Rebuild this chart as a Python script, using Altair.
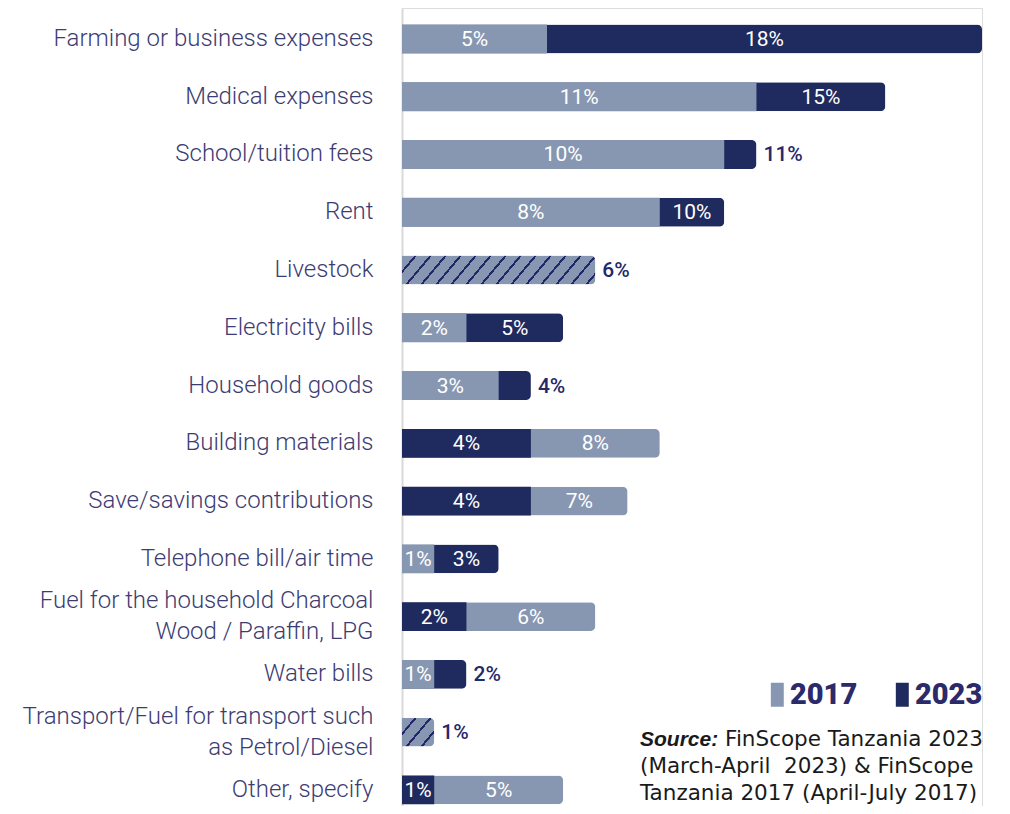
import math
import altair as alt
import pandas as pd

categories = [
    "Farming or business expenses",
    "Medical expenses",
    "School/tuition fees",
    "Rent",
    "Livestock",
    "Electricity bills",
    "Household goods",
    "Building materials",
    "Save/savings contributions",
    "Telephone bill/air time",
    "Fuel for the household Charcoal|Wood / Paraffin, LPG",
    "Water bills",
    "Transport/Fuel for transport such|as Petrol/Diesel",
    "Other, specify",
]
v2017 = [4.5, 11, 10, 8, 6, 2, 3, 8, 7, 1, 6, 1, 1, 5]
v2023 = [18, 15, 11, 10, 6, 5, 4, 4, 4, 3, 2, 2, 1, 1]
years = ["2017", "2023"]
source_lines = [
    "Source:",
    "FinScope Tanzania 2023",
    "(March-April\u00a0 2023) & FinScope",
    "Tanzania 2017 (April-July 2017)",
]

LIGHT = "#8797b2"
DARK = "#1f2a5e"
STRIPE = "#23276a"
LABEL = "#3d3c72"

W, H = 580, 798
XMAX = 18
PX = W / XMAX
P_IN, P_OUT, ALIGN = 0.5, 0.157, 0.91
STEP = H / (len(categories) - P_IN + 2 * P_OUT)
BW = STEP * (1 - P_IN)

rows = []
for c, a, b in zip(categories, v2017, v2023):
    lo, hi = min(a, b), max(a, b)
    lo_year = years[0] if a <= b else years[1]
    hi_year = years[1] if a <= b else years[0]
    equal = a == b
    inside = (not equal) and (hi - lo) * PX >= 48
    rows.append(dict(cat=c, lo=lo, hi=hi, lo_year=lo_year, hi_year=hi_year,
                     equal=equal, inside=inside, lo_mid=lo / 2, hi_mid=(lo + hi) / 2))
df = pd.DataFrame(rows)


def hatch(value, period=15.0, thick=2.6, angle=50.0):
    w = value * PX
    h = BW
    k = math.tan(math.radians(angle))
    r = h / (k * w)
    s = (1 + r) / (1 + r * r)
    dt = period / (w * (1 + r))
    dth = thick / (w * (1 + r))
    stops = [{"offset": 0, "color": LIGHT}]
    t = 0.0
    while t < 1:
        a = t + dt - dth
        b = t + dt
        if a >= 1:
            break
        stops.append({"offset": round(a, 5), "color": LIGHT})
        stops.append({"offset": round(a, 5), "color": STRIPE})
        stops.append({"offset": round(min(b, 1), 5), "color": STRIPE})
        if b < 1:
            stops.append({"offset": round(b, 5), "color": LIGHT})
        t = b
    stops.append({"offset": 1, "color": stops[-1]["color"]})
    return {"gradient": "linear", "x1": 0, "y1": 0, "x2": s, "y2": s * r, "stops": stops}


xscale = alt.Scale(domain=[0, XMAX], nice=False, zero=True)
yscale = alt.Scale(paddingInner=P_IN, paddingOuter=P_OUT, align=ALIGN)
cscale = alt.Scale(domain=years, range=[LIGHT, DARK])

base = alt.Chart(df).encode(
    y=alt.Y(
        "cat:N",
        sort=categories,
        scale=yscale,
        title=None,
        axis=alt.Axis(
            labelExpr="split(datum.label, '|')",
            labelFont="Roboto",
            labelFontWeight=300,
            labelFontSize=24,
            labelColor=LABEL,
            labelPadding=29,
            labelLimit=420,
            labelLineHeight=31,
            labelOffset={"condition": {"test": "indexof(datum.value, '|') >= 0", "value": -15.5}, "value": 0},
            ticks=False,
            domainColor="#d9d9d9",
            domainWidth=2,
        ),
    )
)

legend = alt.Legend(
    title=None,
    orient="none",
    direction="horizontal",
    legendX=356,
    legendY=672,
    padding=0,
    symbolType="M-0.14,-1H0.94V1H-0.14Z",
    symbolSize=576,
    symbolStrokeWidth=0,
    symbolOpacity=1,
    labelFont="Roboto",
    labelFontWeight=900,
    labelFontSize=29,
    labelColor="#2b2a6b",
    labelOffset=3,
    columnPadding=25,
)

long_bars = base.transform_filter("!datum.equal").mark_bar(
    cornerRadiusTopRight=5, cornerRadiusBottomRight=5
).encode(
    x=alt.X("hi:Q", scale=xscale, axis=None),
    color=alt.Color("hi_year:N", scale=cscale, legend=legend),
)

short_bars = base.transform_filter("!datum.equal").mark_bar().encode(
    x=alt.X("lo:Q", scale=xscale, axis=None),
    color=alt.Color("lo_year:N", scale=cscale, legend=legend),
)

hatch_layers = []
for c, a, b in zip(categories, v2017, v2023):
    if a == b:
        hatch_layers.append(
            base.transform_filter(alt.datum.cat == c).mark_bar(
                fill=hatch(a), cornerRadiusTopRight=5, cornerRadiusBottomRight=5
            ).encode(x=alt.X("hi:Q", scale=xscale, axis=None))
        )

txt = dict(font="Roboto", fontSize=21, baseline="middle", dy=1)

short_text = base.transform_filter("!datum.equal").transform_calculate(
    lab="format(datum.lo, '.0f') + '%'"
).mark_text(color="white", align="center", **txt).encode(
    x=alt.X("lo_mid:Q", scale=xscale, axis=None), text="lab:N"
)

inside_text = base.transform_filter("datum.inside").transform_calculate(
    lab="format(datum.hi, '.0f') + '%'"
).mark_text(color="white", align="center", **txt).encode(
    x=alt.X("hi_mid:Q", scale=xscale, axis=None), text="lab:N"
)

outside_text = base.transform_filter("!datum.inside").transform_calculate(
    lab="format(datum.hi, '.0f') + '%'"
).mark_text(color="#25286a", align="left", dx=7, fontWeight=500, **txt).encode(
    x=alt.X("hi:Q", scale=xscale, axis=None), text="lab:N"
)

src_font = dict(baseline="alphabetic", color="#1a1a1a")
src1 = alt.Chart(pd.DataFrame({"t": [source_lines[0]]})).mark_text(
    align="left", font="Liberation Sans", fontSize=21, fontStyle="italic", fontWeight="bold", **src_font
).encode(text="t:N", x=alt.value(238), y=alt.value(738))
src2 = alt.Chart(pd.DataFrame({"t": [source_lines[1]]})).mark_text(
    align="right", font="DejaVu Sans", fontSize=21.5, **src_font
).encode(text="t:N", x=alt.value(581), y=alt.value(738))
src3 = alt.Chart(pd.DataFrame({"t": [source_lines[2]]})).mark_text(
    align="left", font="DejaVu Sans", fontSize=21.5, **src_font
).encode(text="t:N", x=alt.value(238), y=alt.value(765))
src4 = alt.Chart(pd.DataFrame({"t": [source_lines[3]]})).mark_text(
    align="left", font="DejaVu Sans", fontSize=21.5, **src_font
).encode(text="t:N", x=alt.value(238), y=alt.value(792))

chart = alt.layer(
    long_bars, short_bars, *hatch_layers, short_text, inside_text, outside_text,
    src1, src2, src3, src4
).properties(
    width=W,
    height=H,
    autosize=alt.AutoSizeParams(type="none"),
    padding={"left": 394, "top": 0, "right": 12, "bottom": 0},
).configure_view(stroke=None).configure(background="white")

chart.save("out.html", embed_options={"renderer": "svg", "actions": False})
